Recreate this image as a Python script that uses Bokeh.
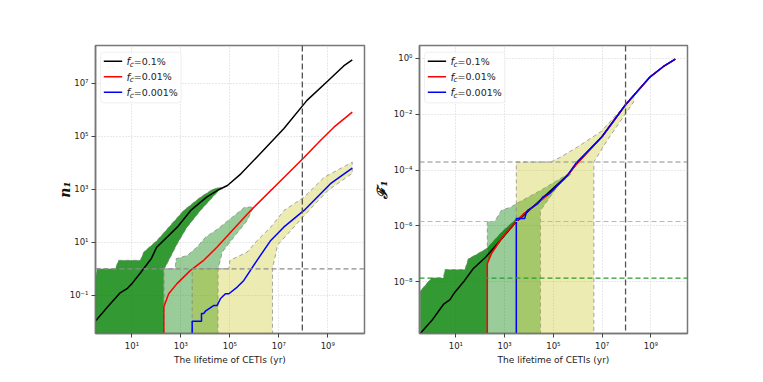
import numpy as np
from bokeh.plotting import figure
from bokeh.layouts import row
from bokeh.models import (Range1d, FixedTicker, CustomJSTickFormatter, Span, Label,
                          BoxAnnotation, Arrow)
from bokeh.embed import file_html
from bokeh.resources import INLINE

# ---------------- data (log10 exponents) ----------------
BOT = -14.0  # "zero" (below the visible range)

# Left panel: n1 vs lifetime
L_black_t = [-0.5, 0.0, 0.5, 0.8, 1.0, 1.35, 1.8, 2.0, 2.85, 3.4, 4.05, 4.5, 4.9, 5.45, 6.1, 7.2, 8.15, 9.0, 9.65, 10.0]
L_black_n = [-1.98, -1.44, -0.92, -0.75, -0.56, -0.15, 0.4, 0.8, 1.57, 2.2, 2.7, 2.96, 3.14, 3.58, 4.21, 5.28, 6.35, 7.08, 7.65, 7.88]
L_red_t = [2.3, 2.3, 2.5, 2.84, 3.39, 3.93, 4.48, 5.2, 5.85, 6.94, 8.03, 8.7, 9.25, 10.0]
L_red_n = [BOT, -1.44, -0.94, -0.56, -0.06, 0.32, 0.82, 1.55, 2.2, 3.2, 4.2, 4.84, 5.34, 5.91]
L_blue_t = [3.46, 3.46, 3.84, 3.84, 3.93, 4.0, 4.35, 4.48, 4.62, 4.82, 4.96, 5.3, 5.57, 6.11, 6.67, 7.2, 8.03, 9.11, 10.0]
L_blue_n = [BOT, -1.98, -1.98, -1.69, -1.69, -1.6, -1.38, -1.38, -1.12, -0.94, -0.94, -0.69, -0.44, 0.32, 1.07, 1.57, 2.2, 3.21, 3.8]

L_band_dg_t = [-0.5, -0.5, -0.43, 0.32, 0.45, 1.34, 1.48, 2.02, 2.5, 3.11, 3.79, 4.3, 4.65,
               4.55, 4.35, 3.8, 3.25, 2.85, 2.36, 2.3, 2.3]
L_band_dg_n = [BOT, -0.44, 0.0, 0.0, 0.32, 0.32, 0.63, 1.07, 1.57, 2.2, 2.7, 3.0, 3.08,
               2.95, 2.75, 2.2, 1.57, 0.94, 0.06, 0.0, BOT]
L_band_lg_t = [2.3, 2.3, 2.77, 2.8, 3.25, 3.66, 4.0, 4.5, 4.93, 5.6, 5.97,
               5.71, 5.16, 4.69, 4.52, 4.48]
L_band_lg_n = [BOT, 0.0, 0.0, 0.38, 0.5, 0.82, 1.19, 1.5, 1.82, 2.32, 2.33,
               1.82, 1.19, 0.63, 0.0, BOT]
L_band_y_t = [3.46, 3.46, 4.96, 5.0, 5.71, 6.12, 6.67, 7.21, 8.03, 8.85, 10.0,
              10.0, 9.0, 8.03, 7.5, 6.95, 6.74, 6.74]
L_band_y_n = [BOT, 0.0, 0.0, 0.32, 0.63, 1.07, 1.57, 2.2, 2.7, 3.45, 4.02,
              3.6, 2.95, 2.0, 1.45, 0.9, 0.0, BOT]
L_hline = 0.0
VLINE = 7.96

# Right panel: F1 vs lifetime
R_black_t = [-0.46, 0.02, 0.49, 0.76, 0.96, 1.31, 1.71, 2.23, 2.59, 3.41, 4.5, 5.59, 5.93, 7.0, 7.95, 8.97, 9.5, 10.0]
R_black_F = [-9.85, -9.38, -8.81, -8.64, -8.37, -8.01, -7.53, -7.11, -6.75, -5.91, -5.05, -4.18, -3.8, -2.8, -1.67, -0.66, -0.3, -0.03]
R_red_t = [2.29, 2.29, 2.46, 2.87, 3.2, 3.41, 3.8, 4.2, 4.5, 4.9, 5.59, 5.93, 7.0, 7.95, 8.97, 9.5, 10.0]
R_red_F = [BOT, -7.35, -6.99, -6.45, -6.1, -5.91, -5.55, -5.3, -5.08, -4.8, -4.18, -3.8, -2.8, -1.67, -0.66, -0.3, -0.03]
R_blue_t = [3.48, 3.48, 3.82, 3.9, 3.96, 4.36, 4.57, 4.83, 5.58, 5.92, 7.0, 7.95, 8.97, 9.5, 10.0]
R_blue_F = [BOT, -5.73, -5.73, -5.5, -5.43, -5.2, -4.96, -4.84, -4.18, -3.76, -2.8, -1.67, -0.66, -0.3, -0.03]

R_band_dg_t = [-0.46, -0.46, 0.0, 0.49, 0.55, 1.37, 1.51, 1.78, 2.26, 2.9, 3.41, 3.9,
               3.9, 3.41, 2.87, 2.46, 2.29, 2.29]
R_band_dg_F = [BOT, -8.33, -7.86, -7.86, -7.56, -7.56, -7.17, -7.05, -6.81, -6.2, -5.8, -5.5,
               -5.55, -5.95, -6.5, -7.0, -7.35, BOT]
R_band_lg_t = [2.29, 2.29, 2.59, 2.87, 3.27, 3.48, 4.49, 5.1, 5.71,
               5.71, 5.2, 4.47, 4.47]
R_band_lg_F = [BOT, -5.84, -5.84, -5.44, -5.32, -5.2, -4.72, -4.4, -4.08,
               -4.15, -4.55, -5.45, BOT]
R_band_y_t = [3.48, 3.48, 4.9, 5.31, 5.99, 6.94, 8.3,
              8.3, 7.21, 6.66, 6.66]
R_band_y_F = [BOT, -3.71, -3.71, -3.53, -3.17, -2.63, -1.35,
              -1.55, -2.93, -3.71, BOT]
R_hlines = [-3.71, -5.84, -7.87]
R_hline_colors = ["#8c8c8c", "#99cc99", "#2e9a2e"]

LEGEND_LABELS = ["=0.1%", "=0.01%", "=0.001%"]
LINE_COLORS = ["#000000", "#ff0000", "#0000ff"]

X_TICKS = [1, 3, 5, 7, 9]
L_Y_TICKS = [-1, 1, 3, 5, 7]
R_Y_TICKS = [-8, -6, -4, -2, 0]

XLO, XHI = -0.49, 10.5
L_YLO, L_YHI = -2.44, 8.42
R_YLO, R_YHI = -9.85, 0.46

FW, FH = 269, 288
TOP, BOTTOM = 45, 47

def E(a):
    return 10.0 ** np.asarray(a, dtype=float)

fmt = CustomJSTickFormatter(code="""
const e = Math.round(Math.log10(tick));
const sup = {'-':'\u207b','0':'\u2070','1':'\u00b9','2':'\u00b2','3':'\u00b3','4':'\u2074',
             '5':'\u2075','6':'\u2076','7':'\u2077','8':'\u2078','9':'\u2079'};
return '10' + String(e).split('').map(c => sup[c]).join('');
""")

def make_fig(ylo, yhi, yticks, bl, br):
    p = figure(width=bl + FW + br, height=TOP + FH + BOTTOM, x_axis_type="log", y_axis_type="log",
               x_range=Range1d(10**XLO, 10**XHI), y_range=Range1d(10**ylo, 10**yhi),
               output_backend="svg", toolbar_location=None,
               min_border_left=bl, min_border_right=br, min_border_top=TOP, min_border_bottom=BOTTOM)
    p.xaxis.ticker = FixedTicker(ticks=list(E(X_TICKS)))
    p.yaxis.ticker = FixedTicker(ticks=list(E(yticks)))
    p.axis.formatter = fmt
    p.axis.major_label_text_font = "DejaVu Sans"
    p.axis.major_label_text_font_size = "8.5px"
    p.axis.major_label_text_color = "#222222"
    p.axis.major_tick_out = 4
    p.axis.major_tick_in = 0
    p.axis.minor_tick_out = 0
    p.axis.minor_tick_in = 0
    p.axis.axis_line_color = "#777777"
    p.axis.axis_line_width = 1.5
    p.axis.major_tick_line_color = "#444444"
    p.axis.major_label_standoff = 3
    p.outline_line_color = "#777777"
    p.outline_line_width = 1.5
    p.grid.grid_line_color = "#c8c8c8"
    p.grid.grid_line_dash = "1 2"
    p.grid.grid_line_width = 0.8
    p.xaxis.axis_label = "The lifetime of CETIs (yr)"
    p.xaxis.axis_label_text_font = "DejaVu Sans"
    p.xaxis.axis_label_text_font_style = "normal"
    p.xaxis.axis_label_text_font_size = "9px"
    p.xaxis.axis_label_text_color = "#222222"
    p.xaxis.axis_label_standoff = 1
    p.yaxis.axis_label_text_font = "DejaVu Serif"
    p.yaxis.axis_label_text_font_style = "bold italic"
    p.yaxis.axis_label_text_font_size = "14px"
    p.yaxis.axis_label_text_color = "#111111"
    return p

def band(p, t, v, color, alpha):
    p.patch(E(t), E(v), fill_color=color, fill_alpha=alpha,
            line_color="#808080", line_alpha=0.7, line_dash="4 3", line_width=1)

def add_legend(p, ylo, yhi):
    def X(px):
        return 10 ** (XLO + px / FW * (XHI - XLO))
    def Y(py):
        return 10 ** (yhi - py / FH * (yhi - ylo))
    p.add_layout(BoxAnnotation(left=X(5), right=X(85.7), top=Y(6.7), bottom=Y(57.3),
                               fill_color="white", fill_alpha=0.85, line_color="#cccccc",
                               line_width=1, border_radius=3, level="overlay"))
    for i, (lab, col) in enumerate(zip(LEGEND_LABELS, LINE_COLORS)):
        yy = 15.7 + i * 15.5
        p.add_layout(Arrow(end=None, x_start=X(8.3), x_end=X(26.7), y_start=Y(yy), y_end=Y(yy),
                           line_color=col, line_width=1.5, level="overlay"))
        p.add_layout(Label(x=X(31), y=Y(yy), text="f", text_font="DejaVu Sans",
                           text_font_style="italic", text_font_size="10.5px",
                           text_baseline="middle", text_color="#222222", level="overlay"))
        p.add_layout(Label(x=X(34.2), y=Y(yy + 3), text="c", text_font="DejaVu Sans",
                           text_font_style="italic", text_font_size="7.5px",
                           text_baseline="middle", text_color="#222222", level="overlay"))
        p.add_layout(Label(x=X(38.2), y=Y(yy), text=lab, text_font="DejaVu Sans",
                           text_font_size="9.5px", text_baseline="middle",
                           text_color="#222222", level="overlay"))

# ---------------- left panel ----------------
p1 = make_fig(L_YLO, L_YHI, L_Y_TICKS, 95, 6)
band(p1, L_band_dg_t, L_band_dg_n, "#008000", 0.8)
band(p1, L_band_lg_t, L_band_lg_n, "#008000", 0.4)
band(p1, L_band_y_t, L_band_y_n, "#bfbf00", 0.3)
p1.add_layout(Span(location=10 ** L_hline, dimension="width", line_color="#8c8c8c",
                   line_dash="5 3", line_width=1.2))
p1.add_layout(Span(location=10 ** VLINE, dimension="height", line_color="#555555",
                   line_dash="6 3", line_width=1.3))
for t, v, c in [(L_black_t, L_black_n, LINE_COLORS[0]), (L_red_t, L_red_n, LINE_COLORS[1]),
                (L_blue_t, L_blue_n, LINE_COLORS[2])]:
    p1.line(E(t), E(v), line_color=c, line_width=1.5)
p1.yaxis.axis_label = "n\u2081"
p1.yaxis.axis_label_standoff = -6
add_legend(p1, L_YLO, L_YHI)

# ---------------- right panel ----------------
p2 = make_fig(R_YLO, R_YHI, R_Y_TICKS, 48, 74)
band(p2, R_band_dg_t, R_band_dg_F, "#008000", 0.8)
band(p2, R_band_lg_t, R_band_lg_F, "#008000", 0.4)
band(p2, R_band_y_t, R_band_y_F, "#bfbf00", 0.3)
for lv, c in zip(R_hlines, R_hline_colors):
    p2.add_layout(Span(location=10 ** lv, dimension="width", line_color=c,
                       line_dash="5 3", line_width=1.2))
p2.add_layout(Span(location=10 ** VLINE, dimension="height", line_color="#555555",
                   line_dash="6 3", line_width=1.3))
for t, v, c in [(R_black_t, R_black_F, LINE_COLORS[0]), (R_red_t, R_red_F, LINE_COLORS[1]),
                (R_blue_t, R_blue_F, LINE_COLORS[2])]:
    p2.line(E(t), E(v), line_color=c, line_width=1.5)
p2.yaxis.axis_label = "\u2131\u2081"
p2.yaxis.axis_label_standoff = 1
add_legend(p2, R_YLO, R_YHI)

layout = row(p1, p2)
open("out.html", "w").write(file_html(layout, INLINE))
